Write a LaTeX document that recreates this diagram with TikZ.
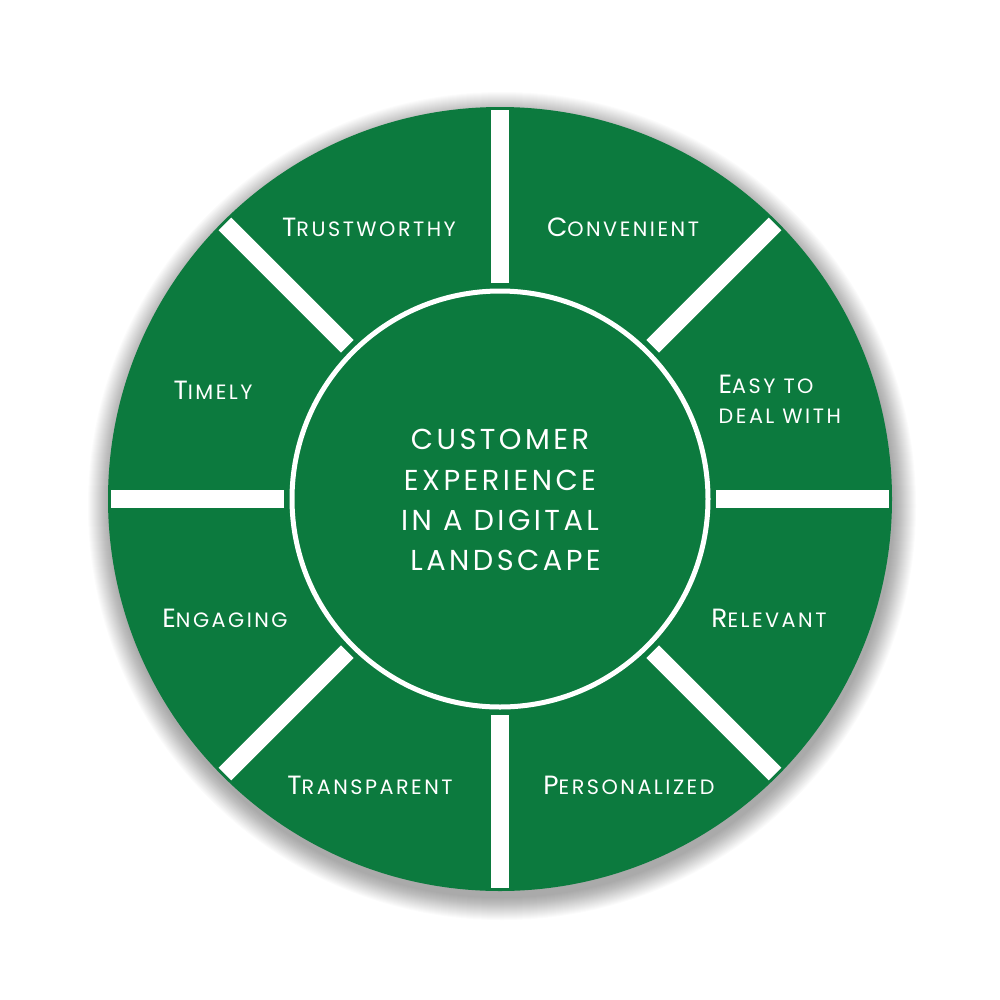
\documentclass[tikz,border=0pt]{standalone}
\usepackage{fontspec}
\setmainfont{Poppins}[LetterSpace=12]
\usetikzlibrary{calc}
\definecolor{wheelgreen}{RGB}{12,122,62}
\newcommand\scword[2]{{\fontsize{7.5}{9}\selectfont #1}{\fontsize{5.9}{7}\selectfont #2}}
\begin{document}
\begin{tikzpicture}[x=0.01cm,y=-0.01cm,
  lbl/.style={text=white,inner sep=0pt,font=\fontsize{5.9}{7}\selectfont},
  centertxt/.style={text=white,inner sep=0pt,align=center,font=\fontsize{8.2}{11.4}\selectfont},
  divider/.style={white,line width=0.18cm,line cap=butt}]
\useasboundingbox (0,0) rectangle (1000,1000);
\fill[white] (0,0) rectangle (1000,1000);
% soft shadow
\foreach \k in {0,1,...,22}{
  \fill[black,opacity=0.014] (502,506) circle ({392+\k});
}
\fill[wheelgreen] (500,499) circle (392);
% dividers
\foreach \a in {0,45,...,315}{
  \draw[divider] ($(500,499)+(\a:216)$) -- ($(500,499)+(\a:389)$);
}
% inner ring
\draw[white,line width=0.05cm] (500,499) circle (208);
% labels
\node[lbl] (trust) at (369,227) {\scword{T}{RUSTWORTHY}};
\node[lbl] (conv) at (623,227) {\scword{C}{ONVENIENT}};
\node[lbl,align=left,anchor=west] (easy) at (718,399) {\scword{E}{ASY TO}\\[1.6pt]\scword{}{DEAL WITH}};
\node[lbl] (timely) at (213,390) {\scword{T}{IMELY}};
\node[lbl] (relev) at (769,618) {\scword{R}{ELEVANT}};
\node[lbl] (engag) at (225,618) {\scword{E}{NGAGING}};
\node[lbl] (transp) at (370,785) {\scword{T}{RANSPARENT}};
\node[lbl] (pers) at (629,785) {\scword{P}{ERSONALIZED}};
\node[centertxt] (center) at (500,500) {CUSTOMER\\EXPERIENCE\\IN A DIGITAL\\\ LANDSCAPE};
\end{tikzpicture}
\end{document}
